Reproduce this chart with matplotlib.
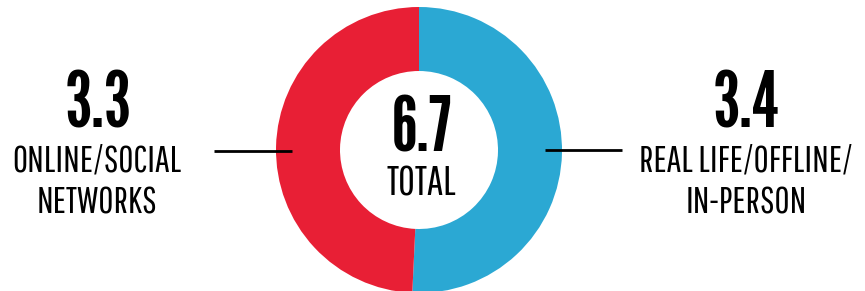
import matplotlib.pyplot as plt

values = [3.4, 3.3]
label_lines = [['REAL LIFE/OFFLINE/', 'IN-PERSON'], ['ONLINE/SOCIAL', 'NETWORKS']]
colors = ['#2BA8D3', '#E81F35']
total = 6.7

W, H = 865, 291
fig = plt.figure(figsize=(W / 100, H / 100), dpi=100)
ax = fig.add_axes([0, 0, 1, 1])

num_font = ['League Gothic', 'DejaVu Sans']
lab_font = ['Pathway Gothic One', 'League Gothic', 'DejaVu Sans']

cx, cy = 419, 141
ax.pie(values, colors=colors, startangle=90, counterclock=False,
       radius=143, center=(cx, cy),
       wedgeprops=dict(width=64, linewidth=0))

ax.set_xlim(0, W)
ax.set_ylim(0, H)
ax.set_aspect('equal')
ax.axis('off')

# size the label font so 'ONLINE/SOCIAL' is about 170px wide
r = fig.canvas.get_renderer()
t = ax.text(0, 0, label_lines[1][0], fontsize=34, family=lab_font)
lab_size = 34 * 170 / t.get_window_extent(r).width
t.remove()

# center
ax.text(cx + 3, 291 - 152, f'{total}', ha='center', va='baseline', fontsize=54,
        family=num_font)
ax.text(cx + 2, 291 - 195, 'TOTAL', ha='center', va='baseline', fontsize=lab_size * 1.1,
        family=lab_font)

# left label (online)
ax.plot([214, 292], [140, 140], color='black', lw=2, solid_capstyle='butt')
ax.text(98, 291 - 127, f'{values[1]}', ha='center', va='baseline', fontsize=56,
        family=num_font)
ax.text(97, 291 - 171, label_lines[1][0], ha='center', va='baseline', fontsize=lab_size,
        family=lab_font)
ax.text(97, 291 - 213, label_lines[1][1], ha='center', va='baseline', fontsize=lab_size,
        family=lab_font)

# right label (offline)
ax.plot([545, 622], [141, 141], color='black', lw=2, solid_capstyle='butt')
ax.text(746, 291 - 127, f'{values[0]}', ha='center', va='baseline', fontsize=56,
        family=num_font)
ax.text(746, 291 - 172, label_lines[0][0], ha='center', va='baseline', fontsize=lab_size,
        family=lab_font)
ax.text(746, 291 - 213, label_lines[0][1], ha='center', va='baseline', fontsize=lab_size,
        family=lab_font)

fig.savefig('out.png', dpi=100)
